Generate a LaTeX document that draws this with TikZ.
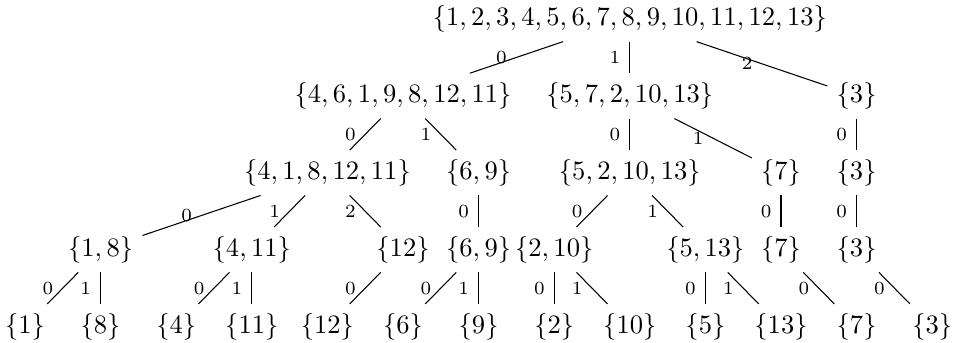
\documentclass[tikz,border=0pt]{standalone}
\begin{document}
\begin{tikzpicture}[x=0.3764pt, y=-0.3764pt,
  setnode/.style={inner sep=3.33pt},
  elbl/.style={font=\scriptsize, midway, anchor=center, xshift=-5.6pt, inner sep=0pt},
  edge/.style={line width=0.4pt}]
\useasboundingbox (0,0) rectangle (955,343);
% row 0
\node[setnode] (r) at (629.8,19) {$\{1,2,3,4,5,6,7,8,9,10,11,12,13\}$};
% row 1
\node[setnode] (a) at (403,95.9) {$\{4,6,1,9,8,12,11\}$};
\node[setnode] (b) at (629.8,95.9) {$\{5,7,2,10,13\}$};
\node[setnode] (c) at (856.6,95.9) {$\{3\}$};
% row 2
\node[setnode] (a0) at (327.4,172.8) {$\{4,1,8,12,11\}$};
\node[setnode] (a1) at (478.6,172.8) {$\{6,9\}$};
\node[setnode] (b0) at (629.8,172.8) {$\{5,2,10,13\}$};
\node[setnode] (b1) at (781,172.8) {$\{7\}$};
\node[setnode] (c0) at (856.6,172.8) {$\{3\}$};
% row 3
\node[setnode] (a00) at (100.6,249.7) {$\{1,8\}$};
\node[setnode] (a01) at (251.8,249.7) {$\{4,11\}$};
\node[setnode] (a02) at (403,249.7) {$\{12\}$};
\node[setnode] (a10) at (478.6,249.7) {$\{6,9\}$};
\node[setnode] (b00) at (554.2,249.7) {$\{2,10\}$};
\node[setnode] (b01) at (705.4,249.7) {$\{5,13\}$};
\node[setnode] (b10) at (781,249.7) {$\{7\}$};
\node[setnode] (c00) at (856.6,249.7) {$\{3\}$};
% row 4
\node[setnode] (l1) at (25,326.6) {$\{1\}$};
\node[setnode] (l8) at (100.6,326.6) {$\{8\}$};
\node[setnode] (l4) at (176.2,326.6) {$\{4\}$};
\node[setnode] (l11) at (251.8,326.6) {$\{11\}$};
\node[setnode] (l12) at (327.4,326.6) {$\{12\}$};
\node[setnode] (l6) at (403,326.6) {$\{6\}$};
\node[setnode] (l9) at (478.6,326.6) {$\{9\}$};
\node[setnode] (l2) at (554.2,326.6) {$\{2\}$};
\node[setnode] (l10) at (629.8,326.6) {$\{10\}$};
\node[setnode] (l5) at (705.4,326.6) {$\{5\}$};
\node[setnode] (l13) at (781,326.6) {$\{13\}$};
\node[setnode] (l7) at (856.6,326.6) {$\{7\}$};
\node[setnode] (l3) at (932.2,326.6) {$\{3\}$};
% edges
\draw[edge] (r) -- node[elbl]{0} (a);
\draw[edge] (r) -- node[elbl]{1} (b);
\draw[edge] (r) -- node[elbl]{2} (c);
\draw[edge] (a) -- node[elbl]{0} (a0);
\draw[edge] (a) -- node[elbl]{1} (a1);
\draw[edge] (b) -- node[elbl]{0} (b0);
\draw[edge] (b) -- node[elbl]{1} (b1);
\draw[edge] (c) -- node[elbl]{0} (c0);
\draw[edge] (a0) -- node[elbl]{0} (a00);
\draw[edge] (a0) -- node[elbl]{1} (a01);
\draw[edge] (a0) -- node[elbl]{2} (a02);
\draw[edge] (a1) -- node[elbl]{0} (a10);
\draw[edge] (b0) -- node[elbl]{0} (b00);
\draw[edge] (b0) -- node[elbl]{1} (b01);
\draw[edge] (b1) -- node[elbl]{0} (b10);
\draw[edge] (c0) -- node[elbl]{0} (c00);
\draw[edge] (a00) -- node[elbl]{0} (l1);
\draw[edge] (a00) -- node[elbl]{1} (l8);
\draw[edge] (a01) -- node[elbl]{0} (l4);
\draw[edge] (a01) -- node[elbl]{1} (l11);
\draw[edge] (a02) -- node[elbl]{0} (l12);
\draw[edge] (a10) -- node[elbl]{0} (l6);
\draw[edge] (a10) -- node[elbl]{1} (l9);
\draw[edge] (b00) -- node[elbl]{0} (l2);
\draw[edge] (b00) -- node[elbl]{1} (l10);
\draw[edge] (b01) -- node[elbl]{0} (l5);
\draw[edge] (b01) -- node[elbl]{1} (l13);
\draw[edge] (b10) -- node[elbl]{0} (l7);
\draw[edge] (c00) -- node[elbl]{0} (l3);
\end{tikzpicture}
\end{document}
